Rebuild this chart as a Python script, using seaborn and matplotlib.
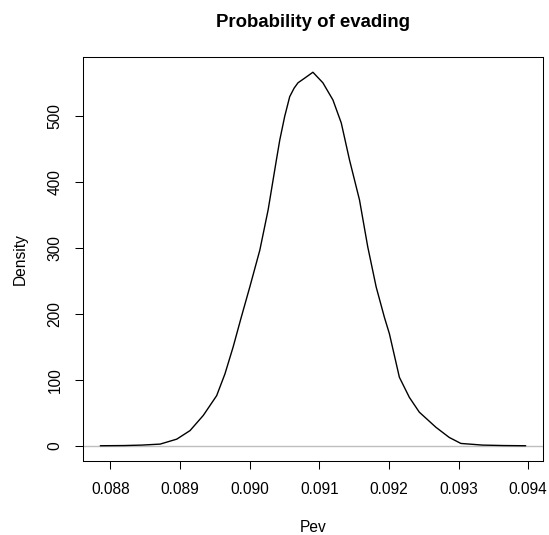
import matplotlib
matplotlib.use("Agg")
import matplotlib.pyplot as plt
import seaborn as sns
import numpy as np

sns.set_style("white")
plt.rcParams["font.family"] = ["Liberation Sans", "DejaVu Sans"]
plt.rcParams["text.color"] = "black"
plt.rcParams["axes.labelcolor"] = "black"
plt.rcParams["xtick.color"] = "black"
plt.rcParams["ytick.color"] = "black"

# density curve
pev = [0.087857, 0.088200, 0.088454, 0.088716, 0.088954, 0.089145, 0.089335,
       0.089527, 0.089646, 0.089764, 0.089875, 0.090003, 0.090147, 0.090266,
       0.090385, 0.090433, 0.090504, 0.090576, 0.090640, 0.090695, 0.090790,
       0.090909, 0.091052, 0.091196, 0.091316, 0.091434, 0.091578, 0.091696,
       0.091817, 0.091935, 0.092007, 0.092150, 0.092293, 0.092436, 0.092675,
       0.092866, 0.093033, 0.093342, 0.093650, 0.093963]
density = [0.0, 0.3, 1.0, 2.5, 10, 23, 46,
           76, 109, 150, 193, 241, 297, 358,
           434, 464, 500, 530, 543, 551, 558,
           567, 551, 525, 490, 434, 373, 302,
           241, 195, 170, 104, 73.5, 51, 28,
           12.6, 3.5, 1.0, 0.3, 0.0]
xticks = [0.088, 0.089, 0.090, 0.091, 0.092, 0.093, 0.094]
yticks = [0, 100, 200, 300, 400, 500]

fig = plt.figure(figsize=(5.49, 5.35), dpi=100)
ax = fig.add_axes([0.1517, 0.1389, 0.8368, 0.754])

ax.axhline(0, color="#BEBEBE", lw=1)
sns.lineplot(x=pev, y=density, color="black", lw=1, ax=ax, sort=False)

# R style 4% padding
xr = max(pev) - min(pev)
yr = max(density) - min(density)
ax.set_xlim(min(pev) - 0.04 * xr, max(pev) + 0.04 * xr)
ax.set_ylim(min(density) - 0.04 * yr, max(density) + 0.04 * yr)

ax.set_xticks(xticks)
ax.set_xticklabels([f"{t:.3f}" for t in xticks])
ax.set_yticks(yticks)
ax.set_yticklabels([str(t) for t in yticks], rotation=90, va="center")

ax.tick_params(axis="both", direction="out", length=6, width=0.75,
               color="black", labelcolor="black", labelsize=11.2, pad=9,
               bottom=True, left=True)
for s in ax.spines.values():
    s.set_color("black")
    s.set_linewidth(0.75)

ax.set_xlabel("Pev", fontsize=11.2, color="black")
ax.set_ylabel("Density", fontsize=11.2, color="black")
ax.xaxis.label.set_va("center")
ax.yaxis.label.set_va("center")
ax.xaxis.set_label_coords(0.5, -0.1668)
ax.yaxis.set_label_coords(-0.1378, 0.5)

ax.text(0.5, 1.0858, "Probability of evading", transform=ax.transAxes,
        ha="center", va="center", fontsize=13.4, fontweight="bold",
        color="black")

fig.savefig("out.png", dpi=100)
